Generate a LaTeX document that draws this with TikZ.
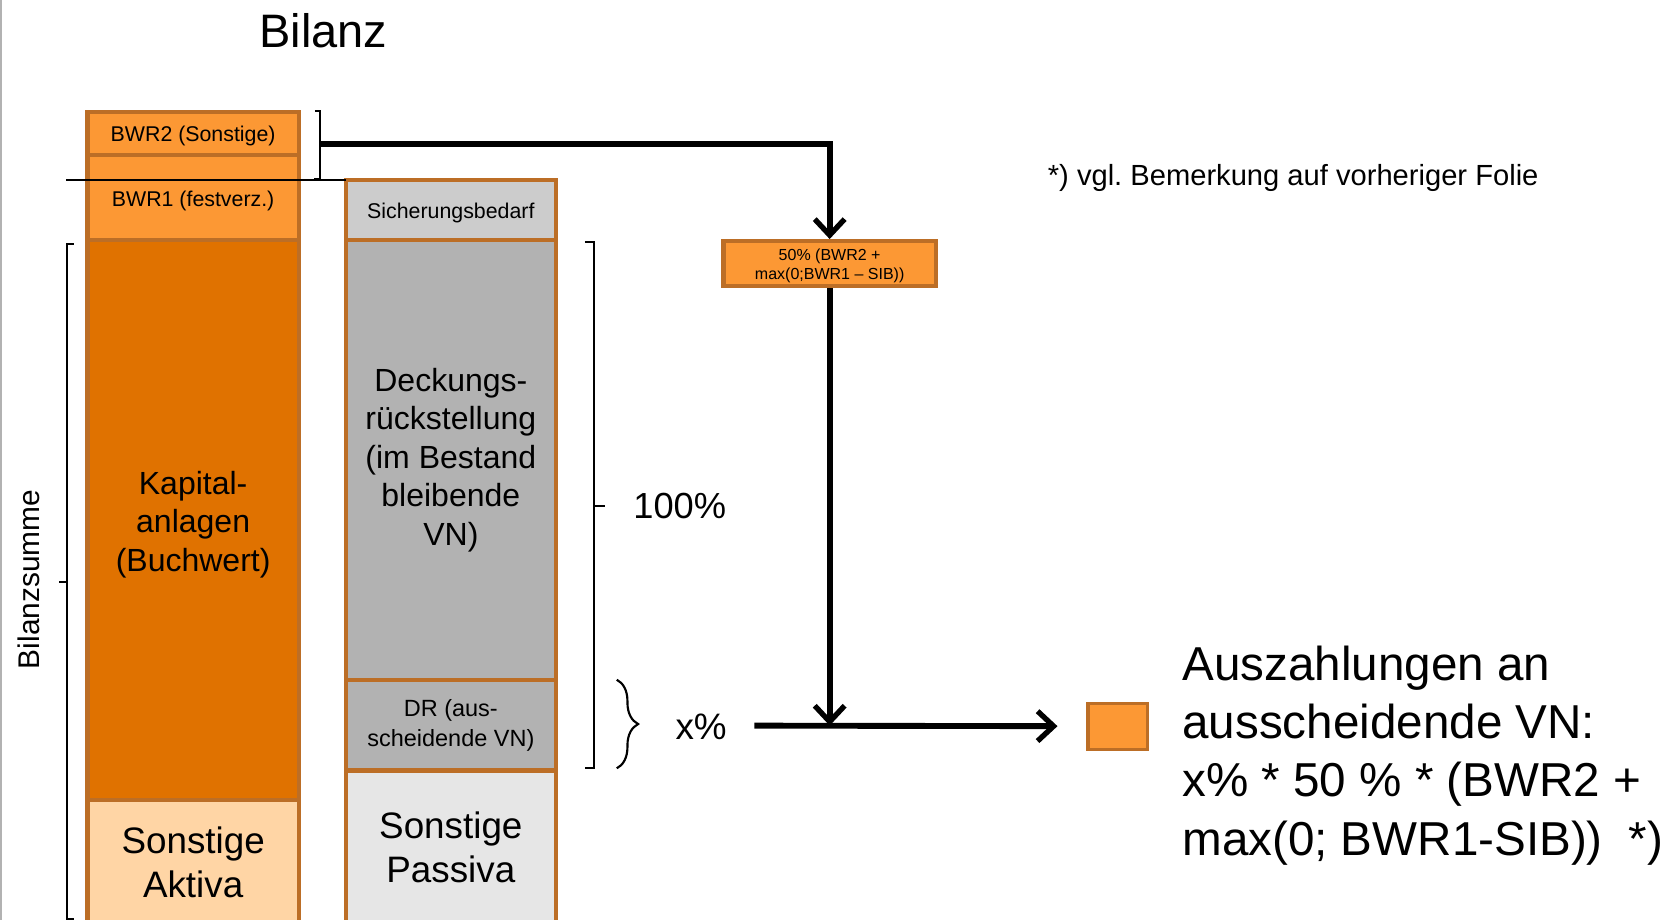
\documentclass[tikz,border=0pt]{standalone}
\usepackage{fontspec}
\setmainfont{Liberation Sans}
\usetikzlibrary{arrows.meta,decorations.pathreplacing}
\definecolor{brd}{RGB}{188,110,38}
\definecolor{lor}{RGB}{252,152,52}
\definecolor{dor}{RGB}{224,114,0}
\definecolor{pch}{RGB}{255,213,165}
\definecolor{lgA}{RGB}{204,204,204}
\definecolor{lgB}{RGB}{178,178,178}
\definecolor{lgC}{RGB}{230,230,230}
\newcommand\fsz[2]{\fontsize{#1}{#2}\selectfont}
\frenchspacing
\begin{document}
\begin{tikzpicture}[x=1pt,y=-1pt,
  colbox/.style={draw=brd, line width=4pt, anchor=north west, inner sep=0pt, outer sep=0pt, align=center},
  brk/.style={draw=black, line width=2pt},
  thickarrow/.style={line width=5.5pt, -{Straight Barb[length=15pt,width=28pt,line width=5pt]}},
  plain/.style={inner sep=0pt, outer sep=0pt, align=center}
]
\useasboundingbox (0,0) rectangle (1565,862);
\clip (0,0) rectangle (1565,862);
\draw[gray!60, line width=2pt] (1,0) -- (1,862);

\node[plain, font=\fsz{44}{50}] (title) at (303,29) {Bilanz};

% left column
\node[colbox, fill=lor, minimum width=198pt, minimum height=40pt] (bwr2) at (82,105) {};
\node[colbox, fill=lor, minimum width=198pt, minimum height=80pt] (bwr1) at (82,145) {};
\node[colbox, fill=dor, minimum width=198pt, minimum height=525pt] (kap) at (82,225) {};
\node[colbox, fill=pch, minimum width=198pt, minimum height=116pt] (sakt) at (82,750) {};
\node[plain, font=\fsz{20}{24}] (bwr2t) at ([yshift=-2pt]bwr2.center) {BWR2 (Sonstige)};
\node[plain, font=\fsz{20}{24}] (bwr1t) at ([yshift=-3pt]bwr1.center) {BWR1 (festverz.)};
\node[plain, font=\fsz{30}{36}] (kapt) at ([yshift=-4pt]kap.center) {Kapital-\\anlagen\\(Buchwert)};
\node[plain, font=\fsz{34.5}{41}] (saktt) at (sakt.center) {Sonstige\\Aktiva};

% right column
\node[colbox, fill=lgA, minimum width=197pt, minimum height=56pt] (sib) at (324,169) {};
\node[colbox, fill=lgB, minimum width=197pt, minimum height=412pt] (dr) at (324,225) {};
\node[colbox, fill=lgB, minimum width=197pt, minimum height=85pt] (dra) at (324,637) {};
\node[colbox, fill=lgC, minimum width=197pt, minimum height=144pt] (spas) at (324,722) {};
\node[plain, font=\fsz{20}{24}] (sibt) at ([yshift=-3pt]sib.center) {Sicherungsbedarf};
\node[plain, font=\fsz{30}{36}] (drt) at (dr.center) {Deckungs-\\rückstellung\\(im Bestand\\bleibende\\VN)};
\node[plain, font=\fsz{22}{28}] (drat) at (dra.center) {DR (aus-\\scheidende VN)};
\node[plain, font=\fsz{34.5}{41}] (spast) at (spas.center) {Sonstige\\Passiva};

% thin line
\coordinate (hl) at (62,169);
\draw[line width=1.8pt] (hl) -- (sib.north west);

% bracket BWR
\coordinate (bwrb) at (300,135);
\draw[brk] (295,104) -- (300,104) -- (300,168) -- (294,168);

% calc box
\node[draw=brd, fill=lor, line width=4pt, minimum width=199pt, minimum height=42pt, inner sep=0pt] (calc) at (777.5,247) {};
\node[plain, font=\fsz{15}{18}] (calct) at ([yshift=-2.5pt]calc.center) {50\% (BWR2 +\\max(0;BWR1 -- SIB))};

\draw[thickarrow] (bwrb) -| (calc.north);

% Bilanzsumme bracket
\draw[brk] (69,229) -- (63,229) -- (63,861) -- (69,861);
\draw[brk] (63,545) -- (55,545);
\node[plain, rotate=90, font=\fsz{28}{32}] (bsum) at (27,543) {Bilanzsumme};

% 100% bracket
\draw[brk] (548,227) -- (557,227) -- (557,720) -- (548,720);
\draw[brk] (557,474) -- (567,474);
\node[plain, font=\fsz{34}{40}] (p100) at (637,474) {100\%};

% x% brace
\draw[brk, decorate, decoration={brace, amplitude=20pt}] (578,637) -- (578,720);
\node[plain, font=\fsz{34.5}{40}] (px) at (657,681) {x\%};

% arrows
\coordinate (xs) at (707,680);
\node[draw=brd, fill=lor, line width=3pt, minimum width=56pt, minimum height=43pt, inner sep=0pt] (sq) at (1047.5,680.5) {};
\draw[thickarrow] (calc.south) -- (calc.south |- xs);
\draw[thickarrow] (xs) -- ([xshift=-27pt]sq.west);

% texts
\node[plain, anchor=west, align=left, font=\fsz{44.6}{54.5}] (ausz) at (1108,708) {Auszahlungen an\\ausscheidende VN:\\x\% * 50 \% * (BWR2 +\\max(0; BWR1-SIB))\hspace{0.55em}*)};
\node[plain, anchor=west, font=\fsz{27.3}{32}] (note) at (982,167) {*) vgl. Bemerkung auf vorheriger Folie};
\end{tikzpicture}
\end{document}
